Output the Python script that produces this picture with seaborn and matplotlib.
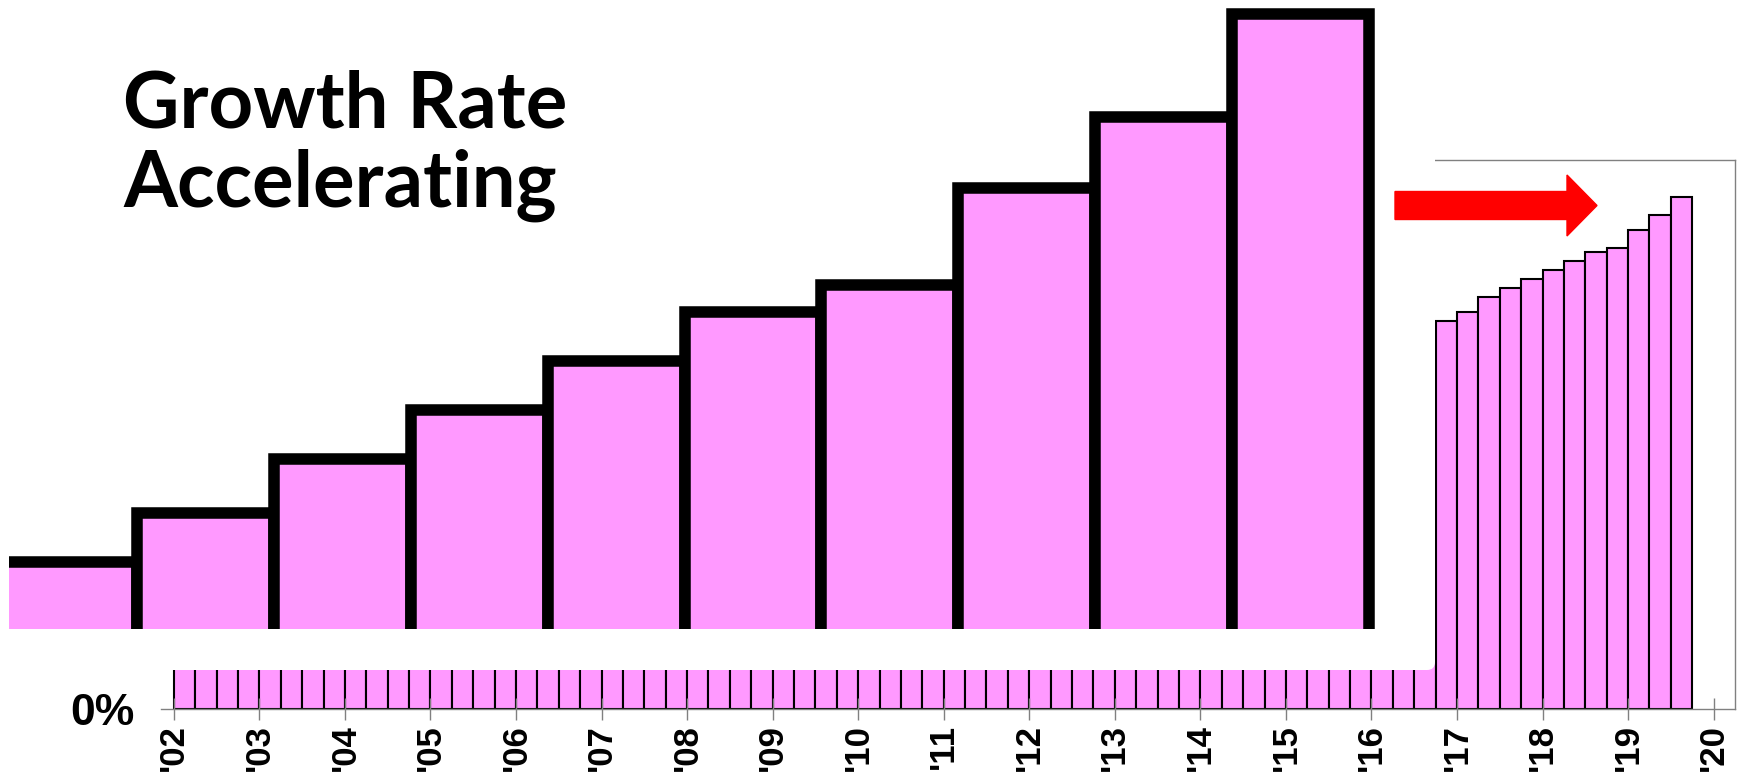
import matplotlib
matplotlib.use("Agg")
import matplotlib.pyplot as plt
from matplotlib.patches import FancyBboxPatch, FancyArrow
from matplotlib.transforms import IdentityTransform
import numpy as np
import pandas as pd
import seaborn as sns

# ---------------- data ----------------
quarter_years = [y for y in range(2002, 2020) for _ in range(4)][:71]
quarter_nums = [q for _ in range(2002, 2020) for q in range(1, 5)][:71]
quarter_values = [
    6.1, 6.3, 6.6, 6.8,      # 2002
    7.0, 7.3, 7.5, 7.8,      # 2003
    8.1, 8.3, 8.6, 8.8,      # 2004
    9.1, 9.3, 9.6, 9.9,      # 2005
    10.1, 10.4, 10.7, 10.9,  # 2006
    11.2, 11.5, 11.7, 12.0,  # 2007
    12.3, 12.5, 12.8, 13.0,  # 2008
    13.2, 13.5, 13.7, 13.9,  # 2009
    14.2, 14.4, 14.7, 14.9,  # 2010
    15.2, 15.4, 15.7, 15.9,  # 2011
    16.2, 16.4, 16.7, 16.9,  # 2012
    17.2, 17.4, 17.7, 17.9,  # 2013
    18.2, 18.4, 18.7, 18.9,  # 2014
    19.2, 19.4, 19.7, 19.9,  # 2015
    20.1, 20.3, 20.7, 21.2,  # 2016
    21.7, 22.5, 23.0, 23.5,  # 2017
    24.0, 24.5, 25.0, 25.2,  # 2018
    26.2, 27.0, 28.0,        # 2019
]
tick_years = list(range(2002, 2021))
tick_labels = ["'%02d" % (y % 100) for y in tick_years]
y_tick_labels = ["0%"]

step_categories = ["s1", "s2", "s3", "s4", "s5", "s6", "s7", "s8", "s9", "s10"]
step_values = [7.35, 12.25, 17.65, 22.55, 27.45, 32.35, 35.05, 44.75, 51.85, 62.15]

title_lines = ["Growth Rate", "Accelerating"]

PINK = "#FF99FF"
GRAY = "#808080"

# ---------------- figure ----------------
W, H = 1737, 776
fig = plt.figure(figsize=(W / 100, H / 100), dpi=100)

# main quarterly chart
ax = fig.add_axes([161 / W, (H - 709) / H, (1735 - 161) / W, (709 - 160) / H])
df = pd.DataFrame({
    "x": [y + (q - 0.5) / 4 for y, q in zip(quarter_years, quarter_nums)],
    "value": quarter_values,
})
sns.barplot(data=df, x="x", y="value", native_scale=True, width=1,
            color=PINK, saturation=1, edgecolor="black", linewidth=1.5,
            errorbar=None, ax=ax)
ax.set_xlim(2001.85, 2020.25)
ax.set_ylim(0, 30)
ax.set_xlabel("")
ax.set_ylabel("")
ax.set_xticks(tick_years)
ax.set_xticklabels(tick_labels, rotation=90, fontsize=25, fontweight="bold",
                   family="Liberation Sans")
ax.set_yticks([0])
ax.set_yticklabels(y_tick_labels, fontsize=32, fontweight="bold",
                   family="Liberation Sans")
ax.tick_params(axis="x", direction="inout", length=16, width=1, color=GRAY, pad=3)
ax.tick_params(axis="y", length=0, pad=19)
ax.spines["left"].set_visible(False)
for s in ["bottom", "top", "right"]:
    ax.spines[s].set_color(GRAY)
    ax.spines[s].set_linewidth(1.0)

# white mask hiding the upper part of the early bars
mask = FancyBboxPatch((-20, H - 670), 1455, 720,
                      boxstyle="round,pad=0,rounding_size=8",
                      facecolor="white", edgecolor="none",
                      transform=IdentityTransform(), zorder=1)
fig.add_artist(mask)

# overlay: big stepped bars
ax2 = fig.add_axes([9 / W, (H - 629) / H, (1390 - 9) / W, 629 / H], zorder=2)
ax2.patch.set_alpha(0)
sns.barplot(x=step_categories, y=step_values, width=1, color=PINK,
            saturation=1, edgecolor="black", linewidth=8.3,
            errorbar=None, ax=ax2)
ax2.set_xlim(-0.4393, 9.656)
ax2.set_ylim(0.6, 63.5)
ax2.axis("off")

# title
fig.text(123 / W, (H - 128) / H, title_lines[0], ha="left", va="baseline",
         fontsize=56, fontweight="bold", family="Lato", zorder=3)
fig.text(123 / W, (H - 207) / H, title_lines[1], ha="left", va="baseline",
         fontsize=56, fontweight="bold", family="Lato", zorder=3)

# red arrow
arrow = FancyArrow(1395, H - 205.5, 202, 0, width=28, head_width=61,
                   head_length=30, length_includes_head=True,
                   color="red", transform=IdentityTransform(), zorder=3)
fig.add_artist(arrow)

fig.savefig("out.png", dpi=100)
